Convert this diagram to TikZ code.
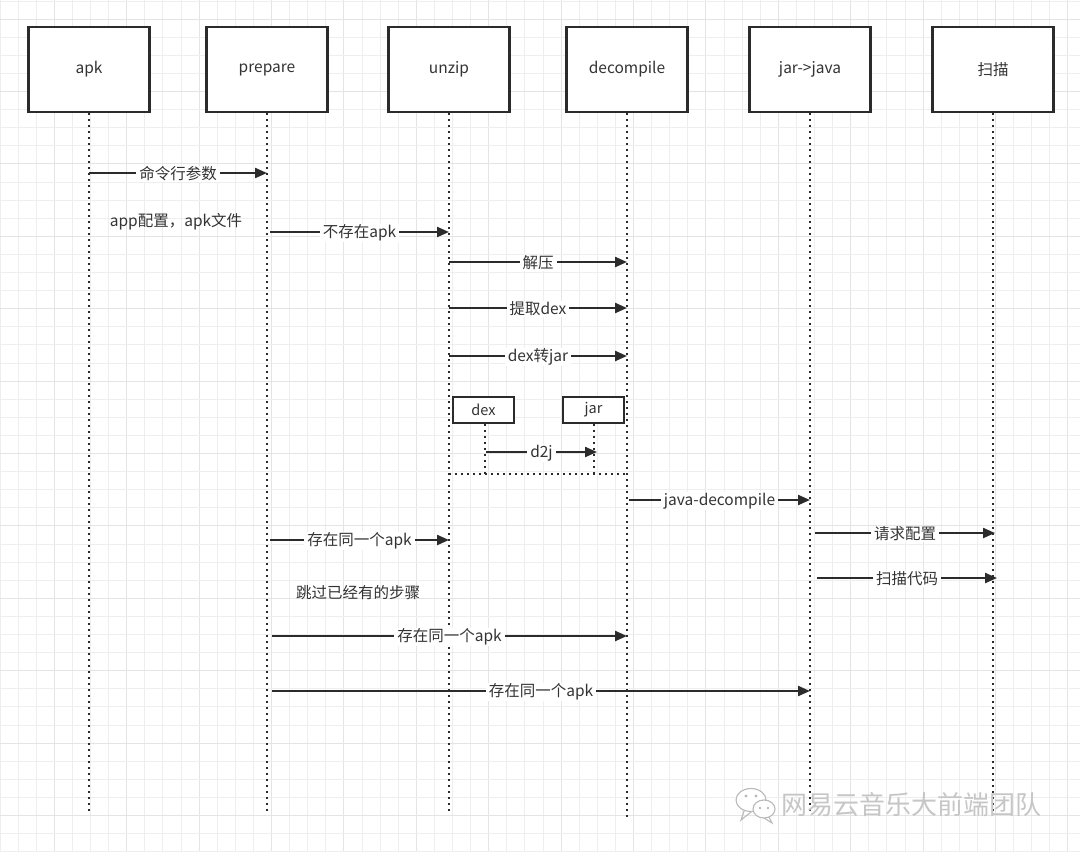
\documentclass[tikz,border=0pt]{standalone}
\usepackage{fontspec}
\setmainfont{Noto Sans CJK SC}
\usetikzlibrary{arrows.meta}
\definecolor{ink}{HTML}{2B2B2B}
\definecolor{txt}{HTML}{333333}
\definecolor{gminor}{HTML}{EEEEEE}
\definecolor{gmajor}{HTML}{E4E4E4}
\tikzset{
  actor/.style={draw=ink,line width=2.2pt,fill=white,minimum width=121pt,minimum height=85pt,inner sep=0pt,font=\fontsize{15.5}{18}\selectfont,text=txt},
  smallbox/.style={draw=ink,line width=2.2pt,fill=white,minimum width=61pt,minimum height=26pt,inner sep=0pt,font=\fontsize{14.5}{16}\selectfont,text=txt},
  life/.style={draw=ink,line width=2pt,dash pattern=on 2pt off 4pt},
  msg/.style={draw=ink,line width=2.2pt,-{Triangle[length=12pt,width=10pt]}},
  lbl/.style={fill=white,inner xsep=3pt,inner ysep=1pt,font=\fontsize{15.5}{18}\selectfont,text=txt},
  note/.style={inner sep=0pt,font=\fontsize{15.5}{18}\selectfont,text=txt},
}
\begin{document}
\begin{tikzpicture}[x=1pt,y=-1pt]
\useasboundingbox (0,0) rectangle (1080,852);
\fill[white] (0,0) rectangle (1080,852);
% grid
\foreach \i in {0,...,60}{
  \pgfmathtruncatemacro{\m}{mod(\i,4)}
  \ifnum\m=3 \draw[gmajor,line width=1pt] (\i*18.1,0) -- (\i*18.1,852);
  \else \draw[gminor,line width=1pt] (\i*18.1,0) -- (\i*18.1,852); \fi
}
\foreach \j in {0,...,47}{
  \pgfmathtruncatemacro{\m}{mod(\j,4)}
  \ifnum\m=1 \draw[gmajor,line width=1pt] (0,\j*18.1+1) -- (1080,\j*18.1+1);
  \else \draw[gminor,line width=1pt] (0,\j*18.1+1) -- (1080,\j*18.1+1); \fi
}
% actors
\node[actor] (apk) at (89,69.5) {\raisebox{-2pt}{apk}};
\node[actor] (prep) at (267,69.5) {\raisebox{-2pt}{prepare}};
\node[actor] (unzip) at (449,69.5) {\raisebox{-2pt}{unzip}};
\node[actor] (dec) at (627,69.5) {\raisebox{-2pt}{decompile}};
\node[actor] (jj) at (810,69.5) {\raisebox{-2pt}{jar->java}};
\node[actor] (scan) at (993,69.5) {\raisebox{-2pt}{扫描}};
% lifeline ends
\coordinate (apkE) at (89,815);
\coordinate (prepE) at (267,815);
\coordinate (unzipE) at (449,813);
\coordinate (decE) at (627,820);
\coordinate (jjE) at (810,815);
\coordinate (scanE) at (993,815);
\draw[life] (apk.south) -- (apkE);
\draw[life] (prep.south) -- (prepE);
\draw[life] (unzip.south) -- (unzipE);
\draw[life] (dec.south) -- (decE);
\draw[life] (jj.south) -- (jjE);
\draw[life] (scan.south) -- (scanE);
% sub boxes dex/jar
\node[smallbox] (dex) at (483.5,410) {\raisebox{-1pt}{dex}};
\node[smallbox] (jar) at (593.5,410) {\raisebox{-1pt}{jar}};
\coordinate (dexE) at (485,474);
\coordinate (jarE) at (594,474);
\draw[life] (dex.south -| dexE) -- (dexE);
\draw[life] (jar.south -| jarE) -- (jarE);
\coordinate (frL) at (449,474);
\coordinate (frR) at (627,474);
\draw[life] (frL) -- (frR);
% message anchors
\coordinate (m1s) at (89,173);  \coordinate (m1e) at (267,173);
\coordinate (m3s) at (270,232); \coordinate (m3e) at (449,232);
\coordinate (m4s) at (449,262); \coordinate (m4e) at (627,262);
\coordinate (m5s) at (449,308); \coordinate (m5e) at (627,308);
\coordinate (m6s) at (449,356); \coordinate (m6e) at (627,356);
\coordinate (m7s) at (486,452); \coordinate (m7e) at (597,452);
\coordinate (m8s) at (629,500); \coordinate (m8e) at (810,500);
\coordinate (m9s) at (815,533); \coordinate (m9e) at (995,533);
\coordinate (m10s) at (817,578); \coordinate (m10e) at (997,578);
\coordinate (m11s) at (270,540); \coordinate (m11e) at (449,540);
\coordinate (m13s) at (272,636); \coordinate (m13e) at (627,636);
\coordinate (m14s) at (272,691); \coordinate (m14e) at (810,691);
\draw[msg] (m1s) -- node[lbl,yshift=-1pt] {命令行参数} (m1e);
\draw[msg] (m3s) -- node[lbl,yshift=-1pt] {不存在apk} (m3e);
\draw[msg] (m4s) -- node[lbl,yshift=-1pt] {解压} (m4e);
\draw[msg] (m5s) -- node[lbl,yshift=-1pt] {提取dex} (m5e);
\draw[msg] (m6s) -- node[lbl,yshift=-1pt] {dex转jar} (m6e);
\draw[msg] (m7s) -- node[lbl,yshift=-1pt] {d2j} (m7e);
\draw[msg] (m8s) -- node[lbl,yshift=-1pt] {java-decompile} (m8e);
\draw[msg] (m9s) -- node[lbl,yshift=-1pt] {请求配置} (m9e);
\draw[msg] (m10s) -- node[lbl,yshift=-1pt] {扫描代码} (m10e);
\draw[msg] (m11s) -- node[lbl,yshift=-1pt] {存在同一个apk} (m11e);
\draw[msg] (m13s) -- node[lbl,yshift=-1pt] {存在同一个apk} (m13e);
\draw[msg] (m14s) -- node[lbl,yshift=-1pt] {存在同一个apk} (m14e);
% free notes
\node[note] (n1) at (176,222) {app配置，apk文件};
\node[note] (n2) at (358,593) {跳过已经有的步骤};
% watermark
\begin{scope}[draw=gray!55,line width=1.1pt]
  \draw[fill=white] (751,800) ellipse [x radius=15pt,y radius=11.5pt];
  \draw (744,811) -- (741,820) -- (751,812);
  \draw[fill=white] (764,809) ellipse [x radius=11pt,y radius=9pt];
  \draw (769,817) -- (772,823) -- (764,818);
  \fill[gray!55] (746,796) circle (1.6pt) (756,796) circle (1.6pt);
  \fill[gray!55] (760,808) circle (1.3pt) (768,808) circle (1.3pt);
\end{scope}
\node[inner sep=0pt,anchor=west,font=\fontsize{26}{28}\selectfont,text=gray!45] (wm) at (781,805) {网易云音乐大前端团队};
\end{tikzpicture}
\end{document}
